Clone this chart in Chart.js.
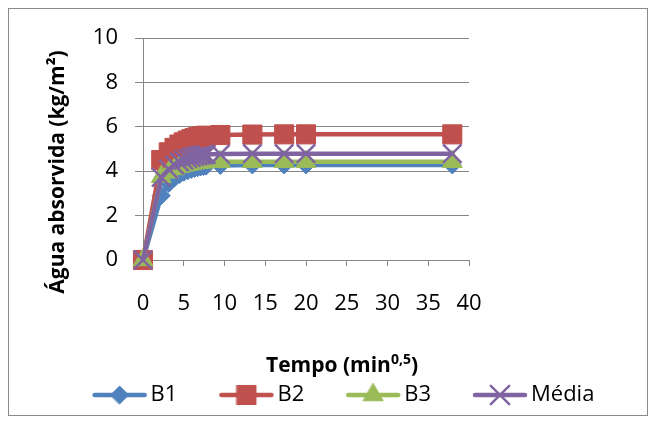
<!DOCTYPE html>
<html>
<head>
<meta charset="utf-8">
<script src="https://cdn.jsdelivr.net/npm/chart.js@4/dist/chart.umd.min.js"></script>
<style>
  html, body { margin: 0; padding: 0; background: #fff; }
  #wrap { position: relative; width: 656px; height: 423px; }
  #frame { position: absolute; left: 8px; top: 8px; width: 638px; height: 406px; border: 1px solid #8a8a8a; }
  canvas { position: absolute; left: 0; top: 0; }
</style>
</head>
<body>
<div id="wrap">
  <div id="frame"></div>
  <canvas id="c" width="656" height="423"></canvas>
</div>
<script>
// x = tempo (min^0,5)
const tempo = [0, 2.24, 3.16, 3.87, 4.47, 5, 5.48, 5.92, 6.32, 6.71, 7.07, 7.42, 7.75, 9.49, 13.42, 17.32, 20, 37.95];
const b1    = [0, 2.9, 3.45, 3.7, 3.85, 3.95, 4.02, 4.08, 4.12, 4.16, 4.19, 4.21, 4.23, 4.26, 4.28, 4.28, 4.28, 4.28];
const b2    = [0, 4.5, 4.85, 5.05, 5.2, 5.3, 5.38, 5.44, 5.49, 5.53, 5.56, 5.58, 5.6, 5.63, 5.65, 5.66, 5.66, 5.66];
const b3    = [0, 3.75, 3.95, 4.1, 4.2, 4.26, 4.3, 4.33, 4.36, 4.38, 4.4, 4.41, 4.42, 4.43, 4.43, 4.43, 4.43, 4.43];
const media = [0, 3.72, 4.08, 4.28, 4.42, 4.5, 4.57, 4.62, 4.66, 4.69, 4.72, 4.73, 4.75, 4.77, 4.79, 4.79, 4.79, 4.79];
const seriesNames = ['B1', 'B2', 'B3', 'Média'];
const xTicks = [0, 5, 10, 15, 20, 25, 30, 35, 40];
const yTicks = [0, 2, 4, 6, 8, 10];

const FONT = "'Open Sans', 'Noto Sans', sans-serif";
const colors = ['#4F81BD', '#C0504D', '#9BBB59', '#8064A2'];
const styles = ['rectRot', 'rect', 'triangle', 'crossRot'];
const radii = [9, 13.5, 11.5, 13];
const pbw = [1, 1, 1, 2.5];
const allValues = [b1, b2, b3, media];

function pts(vals) { return tempo.map((t, i) => ({ x: t, y: vals[i] })); }

function legendImg(i) {
  const cv = document.createElement('canvas');
  cv.width = 56; cv.height = 30;
  const g = cv.getContext('2d');
  g.strokeStyle = colors[i]; g.fillStyle = colors[i];
  g.lineWidth = 4.5; g.lineCap = 'round';
  g.beginPath(); g.moveTo(3, 15); g.lineTo(53, 15); g.stroke();
  g.lineWidth = pbw[i];
  Chart.helpers.drawPoint(g, { pointStyle: styles[i], radius: radii[i], rotation: 0, borderWidth: pbw[i] }, 28, 15);
  return cv;
}

const datasets = allValues.map((vals, i) => ({
  label: seriesNames[i],
  data: pts(vals),
  borderColor: colors[i],
  backgroundColor: colors[i],
  borderWidth: 4.5,
  pointStyle: styles[i],
  pointRadius: radii[i],
  pointHoverRadius: radii[i],
  pointBorderWidth: pbw[i],
  pointBorderColor: colors[i],
  pointBackgroundColor: colors[i],
  tension: 0,
  clip: false,
  order: 4 - i
}));

const titles = {
  id: 'titles',
  afterDraw(chart) {
    const ctx = chart.ctx;
    ctx.save();
    ctx.fillStyle = '#000';
    // Y title
    ctx.translate(58, 172);
    ctx.rotate(-Math.PI / 2);
    ctx.font = "bold 21px " + FONT;
    ctx.textAlign = 'center';
    ctx.textBaseline = 'middle';
    ctx.fillText('Água absorvida (kg/m²)', 0, 0);
    ctx.restore();
    // X title
    ctx.save();
    ctx.fillStyle = '#000';
    ctx.textBaseline = 'middle';
    ctx.textAlign = 'left';
    const big = "bold 21px " + FONT, small = "bold 14px " + FONT;
    ctx.font = big; const w1 = ctx.measureText('Tempo (min').width; const w3 = ctx.measureText(')').width;
    ctx.font = small; const w2 = ctx.measureText('0,5').width;
    let x = 342 - (w1 + w2 + w3) / 2; const y = 366;
    ctx.font = big; ctx.fillText('Tempo (min', x, y); x += w1;
    ctx.font = small; ctx.fillText('0,5', x, y - 6); x += w2;
    ctx.font = big; ctx.fillText(')', x, y);
    ctx.restore();
  }
};

const imgs = [0, 1, 2, 3].map(legendImg);

new Chart(document.getElementById('c'), {
  type: 'line',
  data: { datasets },
  plugins: [titles],
  options: {
    responsive: false,
    devicePixelRatio: 1,
    animation: false,
    events: [],
    layout: { padding: { left: 38, right: 0, top: 38, bottom: 7 } },
    scales: {
      x: {
        type: 'linear', min: 0, max: 40,
        afterBuildTicks(s) { s.ticks = xTicks.map(v => ({ value: v })); },
        ticks: { color: '#000', font: { size: 22, family: FONT }, padding: 25, maxRotation: 0 },
        grid: { drawOnChartArea: false, tickLength: 6, color: '#878787', lineWidth: 1 },
        border: { color: '#878787', width: 1 },
        afterFit(s) { s.height = 75; }
      },
      y: {
        type: 'linear', min: 0, max: 10,
        afterBuildTicks(s) { s.ticks = yTicks.map(v => ({ value: v })); },
        ticks: { color: '#000', font: { size: 22, family: FONT }, padding: 17 },
        grid: { color: '#878787', lineWidth: 1, tickLength: 8 },
        border: { color: '#878787', width: 1 },
        afterFit(s) { s.width = 105; }
      },
      yR: {
        type: 'linear', position: 'right', display: true,
        grid: { display: false }, ticks: { display: false }, border: { display: false },
        afterFit(s) { s.width = 187; }
      }
    },
    plugins: {
      tooltip: { enabled: false },
      legend: {
        position: 'bottom',
        labels: {
          usePointStyle: true,
          pointStyleWidth: 40,
          padding: 49,
          color: '#000',
          font: { size: 22, family: FONT },
          sort: (a, b) => a.datasetIndex - b.datasetIndex,
          generateLabels(chart) {
            const items = Chart.defaults.plugins.legend.labels.generateLabels(chart);
            items.forEach(it => { it.pointStyle = imgs[it.datasetIndex]; });
            return items;
          }
        }
      }
    }
  }
});
</script>
</body>
</html>
